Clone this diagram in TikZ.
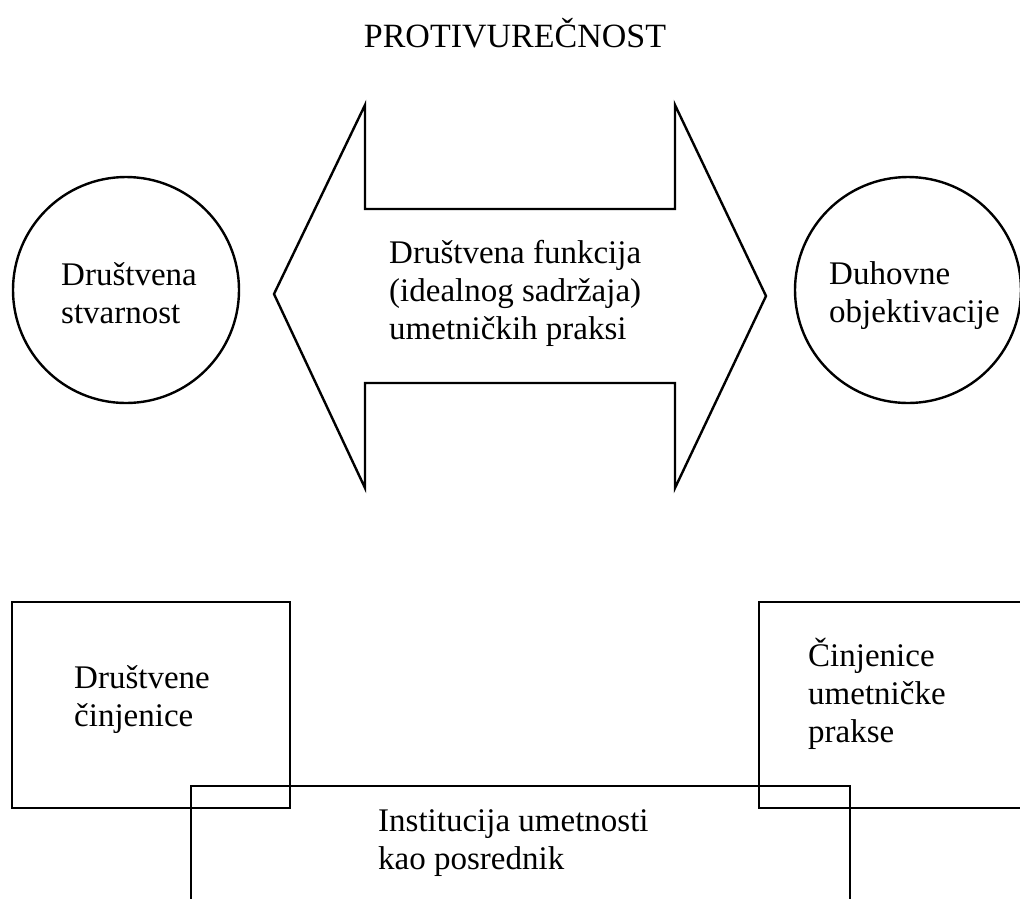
\documentclass[tikz,border=0pt]{standalone}
\usepackage{fontspec}
\setmainfont{Liberation Serif}
\begin{document}
\begin{tikzpicture}[x=1pt,y=-1pt,line width=2.4pt,
  txt/.style={font=\fontsize{33}{38}\selectfont,align=left,inner sep=0pt,anchor=base west},
  outline/.style={draw,line join=miter}]
\useasboundingbox (0,0) rectangle (1020,898);
\clip (0,0) rectangle (1020,898);
\node[txt,anchor=base,font=\fontsize{34}{38}\selectfont] (title) at (515,47) {PROTIVUREČNOST};
% double arrow
\draw[outline] (274,294) -- (365,105) -- (365,209) -- (675,209) -- (675,105) -- (766,296)
  -- (675,488) -- (675,383) -- (365,383) -- (365,488) -- cycle;
\node[txt] (func) at (388,339) {Društvena funkcija\\(idealnog sadržaja)\\umetničkih praksi};
% circles
\node[circle,draw,minimum size=226pt,inner sep=0pt] (c1) at (126,290) {};
\node[circle,draw,minimum size=226pt,inner sep=0pt] (c2) at (908,290) {};
\node[txt] (t1) at (60,323) {Društvena\\stvarnost};
\node[txt] (t2) at (828,322) {Duhovne\\objektivacije};
% boxes
\draw[outline] (12,602) rectangle (290,808);
\draw[outline] (759,602) rectangle (1040,808);
\draw[outline] (191,786) rectangle (850,920);
\node[txt] (b1) at (73,726) {Društvene\\činjenice};
\node[txt] (b2) at (807,742) {Činjenice\\umetničke\\prakse};
\node[txt] (b3) at (377,869) {Institucija umetnosti\\kao posrednik};
\end{tikzpicture}
\end{document}
